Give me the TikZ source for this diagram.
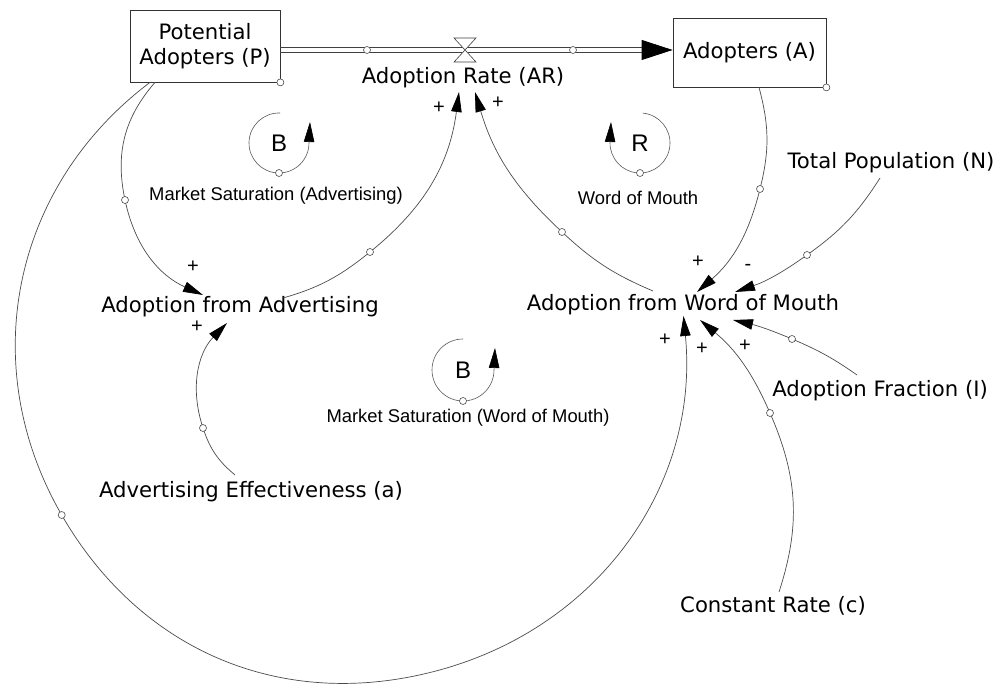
\documentclass[tikz,border=0pt]{standalone}
\usepackage{fontspec}
\setmainfont{DejaVu Sans}
\newfontfamily\armfont{Liberation Sans}
\usetikzlibrary{arrows.meta}

\begin{document}
\begin{tikzpicture}[x=1pt,y=1pt,
  every node/.style={inner sep=0pt, text=black},
  var/.style={font=\fontsize{21.2}{25}\selectfont, align=center},
  stock/.style={var, draw=black!80, line width=0.8pt},
  note/.style={font=\armfont\fontsize{18.4}{21}\selectfont},
  sign/.style={font=\armfont\fontsize{20}{23}\selectfont},
  loopmark/.style={font=\armfont\fontsize{24}{28}\selectfont},
  link/.style={draw=black!70, line width=0.7pt, -{Triangle[length=20pt,width=10.5pt,color=black]}},
  loopline/.style={draw=black!65, line width=0.6pt, -{Triangle[length=20pt,width=10.5pt,color=black]}},
  handle/.style={circle, draw=black!70, fill=white, line width=0.6pt, minimum size=7pt},
  pipeline/.style={draw=black!75, line width=0.8pt},
]
\fill[white] (0,0) rectangle (1000,684);
\useasboundingbox (0,0) rectangle (1000,684);

% stocks
\node[stock, minimum width=150pt, minimum height=72pt] (P) at (205,638) {Potential\\Adopters (P)};
\node[stock, minimum width=153pt, minimum height=69pt] (A) at (749.5,631.5) {Adopters (A)};

% variables
\node[var] (AR)  at (463,606) {Adoption Rate (AR)};
\node[var] (afa) at (240,377) {Adoption from Advertising};
\node[var] (wom) at (683,379) {Adoption from Word of Mouth};
\node[var] (N)   at (891,521) {Total Population (N)};
\node[var] (I)   at (880,293) {Adoption Fraction (I)};
\node[var] (ae)  at (251,192) {Advertising Effectiveness (a)};
\node[var] (c)   at (773,78)  {Constant Rate (c)};

% loop names
\node[note] (nB1) at (276,488) {Market Saturation (Advertising)};
\node[note] (nR)  at (638,486) {Word of Mouth};
\node[note] (nB2) at (468,266) {Market Saturation (Word of Mouth)};

% flow pipe with valve
\coordinate (flowy) at (0,634);
\coordinate (pipeL) at (P.east |- flowy);
\coordinate (pipeR) at (A.west |- flowy);
\coordinate (pipeH) at ([xshift=-31pt]pipeR);
\coordinate (valve) at (465,634);
\draw[pipeline] ([yshift=2.5pt]pipeL) -- ([yshift=2.5pt]pipeH);
\draw[pipeline] ([yshift=-2.5pt]pipeL) -- ([yshift=-2.5pt]pipeH);
\draw[pipeline, -{Triangle[length=31pt,width=20pt,color=black]}] (pipeH) -- (pipeR);
\draw[pipeline, fill=white, line width=0.6pt]
  ([shift={(-11,12)}]valve) -- ([shift={(11,12)}]valve) --
  ([shift={(-11,-12)}]valve) -- ([shift={(11,-12)}]valve) -- cycle;
\node[handle] (fh1) at (367,634) {};
\node[handle] (fh2) at (573,634) {};

% link end points and handles
\coordinate (m1) at (125,484);
\coordinate (m2) at (370,432);
\coordinate (m3) at (562,452);
\coordinate (m4) at (760,495);
\coordinate (m5) at (807,429);
\coordinate (m6) at (792,345);
\coordinate (m7) at (770,271);
\coordinate (m8) at (203,256);
\coordinate (m9) at (61.7,169);
\coordinate (arcbase) at (437.4,13.4);

\coordinate (afa-p)   at (203,389);
\coordinate (afa-a)   at (227,361);
\coordinate (afa-out) at (283,386);
\coordinate (ar-l)    at (459,592);
\coordinate (ar-r)    at (475,592);
\coordinate (wom-out) at (653,393);
\coordinate (wom-a)   at (697,392);
\coordinate (wom-n)   at (735,392);
\coordinate (wom-i)   at (733,364);
\coordinate (wom-c)   at (700,364);
\coordinate (wom-p)   at (683.5,368);
\coordinate (N-out)   at (880,506);
\coordinate (I-out)   at (857,309);
\coordinate (c-out)   at (779,92);
\coordinate (ae-out)  at (235,209);

% causal links
\draw[link] ([xshift=-50pt]P.south) to[out=229,in=102] (m1) to[out=282,in=156] (afa-p);
\draw[link] (afa-out) to[out=16,in=219] (m2) to[out=39,in=262.5] (ar-l);
\draw[link] (wom-out) to[out=157,in=317] (m3) to[out=137,in=286.6] (ar-r);
\draw[link] ([xshift=9.5pt]A.south) to[out=285,in=76] (m4) to[out=256,in=41] (wom-a);
\draw[link] (N-out) to[out=237.5,in=35.5] (m5) to[out=215.5,in=18.8] (wom-n);
\draw[link] (I-out) to[out=145,in=337] (m6) to[out=157,in=347] (wom-i);
\draw[link] (c-out) to[out=72,in=293.6] (m7) to[out=113.6,in=320.2] (wom-c);
\draw[link] (ae-out) to[out=140,in=288.35] (m8) to[out=108.35,in=225.9] (afa-a);
\draw[link] ([xshift=-55pt]P.south) to[out=217,in=120] (m9) to[out=300,in=195] (arcbase)
  to[out=15,in=275.5] (wom-p);

\foreach \h in {m1,m2,m3,m4,m5,m6,m7,m8,m9}
  \node[handle] at (\h) {};
\node[handle] (ph) at (P.south east) {};
\node[handle] (ah) at (A.south east) {};

% polarities
\node[sign] at (193,417) {+};
\node[sign] at (197,357) {+};
\node[sign] at (439,576) {+};
\node[sign] at (498,581) {+};
\node[sign] at (698,422) {+};
\node[sign] at (748,417) {-};
\node[sign] at (665,344) {+};
\node[sign] at (702,335) {+};
\node[sign] at (745,338) {+};

% loop markers
\node[loopmark] (B1) at (279,541) {B};
\draw[loopline] ([shift={(88:30)}]B1.center) arc[start angle=88,end angle=360,radius=30pt] -- ++(1,21);
\node[handle] at ([shift={(270:30)}]B1.center) {};

\node[loopmark] (R) at (640,541) {R};
\draw[loopline] ([shift={(85:30)}]R.center) arc[start angle=85,end angle=-180,radius=30pt] -- ++(1,21);
\node[handle] at ([shift={(270:30)}]R.center) {};

\node[loopmark] (B2) at (463,314) {B};
\draw[loopline] ([shift={(90:31)}]B2.center) arc[start angle=90,end angle=360,radius=31pt] -- ++(1,22);
\node[handle] at ([shift={(270:31)}]B2.center) {};
\end{tikzpicture}
\end{document}
